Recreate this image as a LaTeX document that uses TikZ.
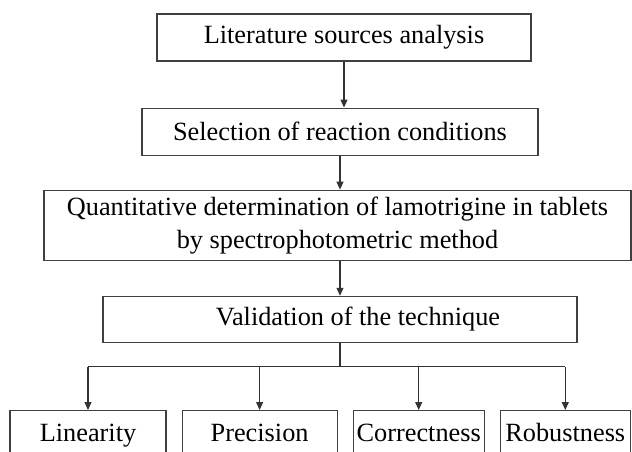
\documentclass[tikz,border=0pt]{standalone}
\usepackage{fontspec}
\setmainfont{Liberation Serif}
\newfontfamily\tnrfont{Liberation Serif}
\usetikzlibrary{arrows.meta,positioning}

\begin{document}
\begin{tikzpicture}[x=1pt,y=1pt,node distance=46pt,
    stage/.style={draw=black!75,line width=1.1pt,rectangle,inner sep=0pt,align=center,
        font=\tnrfont\fontsize{26.3}{33}\selectfont,minimum height=47pt},
    check/.style={stage,minimum height=50pt,anchor=north,text height=18pt,text depth=6pt},
    conn/.style={draw=black!80,line width=1.1pt},
    >={Triangle[length=8pt,width=7pt]}]
    \useasboundingbox (0,0) rectangle (632,-452);
    \clip (0,0) rectangle (632,-452);
    \node[stage,minimum width=374pt] (lit) at (344,-37.5) {Literature sources analysis};
    \node[stage,minimum width=396pt] (sel) [below=of lit,xshift=-4pt] {Selection of reaction conditions};
    \node[stage,minimum width=587pt,minimum height=70pt] (det) [below=34pt of sel,xshift=-2.5pt]
        {Quantitative determination of lamotrigine in tablets\\by spectrophotometric method};
    \node[stage,minimum width=474pt,minimum height=46pt] (val) [below=35pt of det,xshift=2.5pt]
        {\hspace*{36pt}Validation of the technique};
    \node[check,minimum width=156pt] (lin) at (88,-410) {Linearity};
    \node[check,minimum width=155pt] (prec) [right=15pt of lin] {Precision};
    \node[check,minimum width=131pt] (corr) [right=15pt of prec] {Correctness};
    \node[check,minimum width=130pt] (rob) [right=15pt of corr] {Robustness};
    \coordinate (fork) at ([yshift=-24pt]val.south);
    \path[->]
    (lit.south) edge[conn] (lit.south |- sel.north)
    (sel.south) edge[conn] (sel.south |- det.north)
    (val.north |- det.south) edge[conn] (val.north);
    \draw[conn] (val.south) -- (fork)
        (lin.north |- fork) -- (rob.north |- fork);
    \path[->]
    (lin.north |- fork) edge[conn] (lin.north)
    (prec.north |- fork) edge[conn] (prec.north)
    (corr.north |- fork) edge[conn] (corr.north)
    (rob.north |- fork) edge[conn] (rob.north);
\end{tikzpicture}
\end{document}
